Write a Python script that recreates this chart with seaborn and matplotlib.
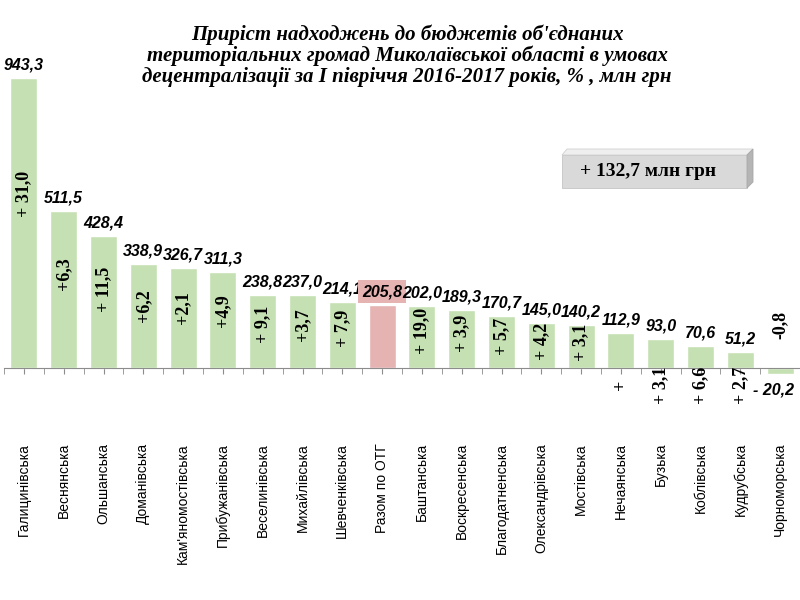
import matplotlib
matplotlib.use('Agg')
import matplotlib.pyplot as plt
from matplotlib.patches import Polygon
import seaborn as sns

communities = ['Галицинівська', 'Веснянська', 'Ольшанська', 'Доманівська',
               "Кам'яномостівська", 'Прибужанівська', 'Веселинівська',
               'Михайлівська', 'Шевченківська', 'Разом по ОТГ', 'Баштанська',
               'Воскресенська', 'Благодатненська', 'Олександрівська',
               'Мостівська', 'Нечаянська', 'Бузька', 'Коблівська',
               'Кудрубська', 'Чорноморська']
growth = [943.3, 511.5, 428.4, 338.9, 326.7, 311.3, 238.8, 237.0, 214.1,
          205.8, 202.0, 189.3, 170.7, 145.0, 140.2, 112.9, 93.0, 70.6,
          51.2, -20.2]
pct_labels = ['+ 31,0', '+6,3', '+ 11,5', '+6,2', '+2,1', '+4,9', '+ 9,1',
              '+3,7', '+ 7,9', '', '+ 19,0', '+ 3,9', '+ 5,7', '+ 4,2',
              '+ 3,1', '+', '+ 3,1', '+ 6,6', '+ 2,7', '-0,8']
total_label = '+ 132,7 млн грн'
title = ("Приріст надходжень до бюджетів об'єднаних\n"
         "територіальних громад Миколаївської області в умовах\n"
         "децентралізації за І півріччя 2016-2017 років, % , млн грн")

green = '#c5e0b3'
pink = '#e6b3b3'
colors = [pink if c == 'Разом по ОТГ' else green for c in communities]

sns.set_style('white')
plt.rcParams['font.family'] = ['Liberation Sans', 'DejaVu Sans']
plt.rcParams['text.color'] = 'black'
plt.rcParams['xtick.labelcolor'] = 'black'

fig = plt.figure(figsize=(8, 6), dpi=100)
ax = fig.add_axes([0.005, 0.2833, 0.995, 0.65])

sns.barplot(x=communities, y=growth, hue=communities, palette=colors,
            legend=False, width=0.68, saturation=1, ax=ax)

ax.set_xlim(-0.5, len(communities) - 0.5)
ax.set_ylim(-202, 1068)
for s in ['top', 'right', 'left']:
    ax.spines[s].set_visible(False)
ax.spines['bottom'].set_position(('data', 0))
ax.spines['bottom'].set_color('#8c8c8c')
ax.set_yticks([])
ax.set_xticks(range(len(communities)))
ax.set_xticks([i - 0.5 for i in range(len(communities) + 1)], minor=True)
ax.set_xticklabels(communities, rotation=90, fontsize=10)
ax.tick_params(axis='x', which='both', direction='out', length=4,
               color='#8c8c8c', bottom=True)
ax.tick_params(axis='x', which='major', pad=50)
ax.set_xlabel('')
ax.set_ylabel('')

# value labels
for i, v in enumerate(growth):
    txt = f'{abs(v):.1f}'.replace('.', ',')
    if v < 0:
        ax.annotate('- ' + txt, (i, v), xytext=(-5, -6),
                    textcoords='offset points', ha='center', va='top',
                    fontsize=11.5, fontweight='bold', style='italic')
    else:
        box = None
        if communities[i] == 'Разом по ОТГ':
            box = dict(boxstyle='square,pad=0.25', fc=pink, ec='none')
        ax.annotate(txt, (i, v), xytext=(0, 4), textcoords='offset points',
                    ha='center', va='bottom', fontsize=11.5,
                    fontweight='bold', style='italic', bbox=box)

# percent labels, rotated
for i, (v, p) in enumerate(zip(growth, pct_labels)):
    if not p:
        continue
    if v < 0:
        y = 140
    elif v < 120:
        y = -55
    else:
        y = 0.6 * v
    ax.text(i, y, p, rotation=90, ha='center', va='center', fontsize=13,
            fontweight='bold', family='Liberation Serif')

fig.text(0.509, 0.907, title, ha='center', va='center', fontsize=15,
         fontweight='bold', style='italic', family='Liberation Serif',
         linespacing=1.05)

# 3d-looking total box
def px(x, y):
    return (x / 800, 1 - y / 600)

front = Polygon([px(562, 155), px(747, 155), px(747, 188), px(562, 188)],
                closed=True, transform=fig.transFigure, fc='#d9d9d9',
                ec='#c4c4c4', lw=0.6)
top = Polygon([px(562, 155), px(567, 149), px(753, 149), px(747, 155)],
              closed=True, transform=fig.transFigure, fc='#efefef',
              ec='#d0d0d0', lw=0.6)
side = Polygon([px(747, 155), px(753, 149), px(753, 182), px(747, 188)],
               closed=True, transform=fig.transFigure, fc='#b5b5b5',
               ec='#a8a8a8', lw=0.6)
for p in (front, top, side):
    fig.patches.append(p)
fig.text(0.81, 1 - 172 / 600, total_label, ha='center', va='center',
         fontsize=14, fontweight='bold', family='Liberation Serif')

fig.savefig('out.png', dpi=100)
